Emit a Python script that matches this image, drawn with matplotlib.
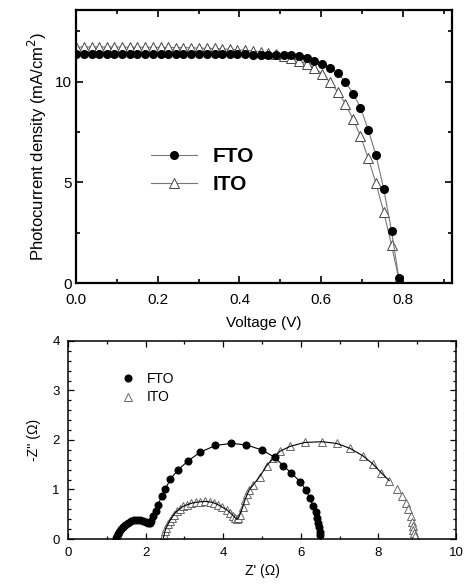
import numpy as np
import matplotlib
matplotlib.use("Agg")
import matplotlib.pyplot as plt
from matplotlib.ticker import MultipleLocator

plt.rcParams['font.family'] = ['Liberation Sans', 'DejaVu Sans']

# J-V curves
voltaje = [0.000, 0.019, 0.038, 0.056, 0.075, 0.094, 0.113, 0.132, 0.150, 0.169,
           0.188, 0.207, 0.226, 0.245, 0.263, 0.282, 0.301, 0.320, 0.339, 0.358,
           0.376, 0.395, 0.414, 0.433, 0.452, 0.470, 0.489, 0.508, 0.527, 0.546,
           0.565, 0.583, 0.602, 0.621, 0.640, 0.659, 0.678, 0.696, 0.715, 0.734,
           0.753, 0.772, 0.790]
j_fto = [11.37, 11.37, 11.37, 11.37, 11.37, 11.37, 11.37, 11.37, 11.37, 11.37,
         11.37, 11.36, 11.36, 11.36, 11.36, 11.36, 11.36, 11.36, 11.36, 11.35,
         11.35, 11.35, 11.35, 11.34, 11.34, 11.33, 11.33, 11.33, 11.32, 11.28,
         11.19, 11.03, 10.89, 10.69, 10.43, 9.98, 9.40, 8.71, 7.60, 6.35,
         4.66, 2.59, 0.23]
j_ito = [11.71, 11.71, 11.71, 11.71, 11.71, 11.71, 11.71, 11.70, 11.70, 11.70,
         11.70, 11.69, 11.69, 11.68, 11.68, 11.67, 11.66, 11.65, 11.64, 11.62,
         11.60, 11.57, 11.55, 11.52, 11.48, 11.43, 11.36, 11.27, 11.16, 11.03,
         10.88, 10.68, 10.38, 9.98, 9.50, 8.90, 8.12, 7.30, 6.20, 4.94,
         3.53, 1.88, 0.20]

# Nyquist
zr_fto = [1.25, 1.27, 1.29, 1.32, 1.36, 1.41, 1.47, 1.54, 1.62, 1.70, 1.78,
          1.86, 1.94, 2.01, 2.07, 2.11, 2.15, 2.19, 2.26, 2.32, 2.41, 2.51,
          2.64, 2.84, 3.10, 3.40, 3.80, 4.21, 4.60, 4.99, 5.33, 5.55, 5.76,
          5.98, 6.13, 6.23, 6.32, 6.39, 6.42, 6.45, 6.47, 6.49, 6.49]
zi_fto = [0.02, 0.06, 0.10, 0.15, 0.20, 0.25, 0.29, 0.33, 0.36, 0.38, 0.385,
          0.38, 0.37, 0.35, 0.33, 0.32, 0.37, 0.46, 0.56, 0.69, 0.86, 1.01,
          1.21, 1.40, 1.58, 1.75, 1.89, 1.93, 1.90, 1.80, 1.65, 1.48, 1.33,
          1.16, 0.99, 0.83, 0.67, 0.54, 0.42, 0.32, 0.24, 0.15, 0.09]
zr_ito = [2.46, 2.48, 2.50, 2.53, 2.58, 2.62, 2.67, 2.73, 2.80, 2.88, 2.97,
          3.07, 3.18, 3.29, 3.40, 3.52, 3.65, 3.76, 3.87, 3.98, 4.09, 4.18,
          4.26, 4.31, 4.35, 4.39, 4.43, 4.50, 4.56, 4.62, 4.67, 4.77, 4.94,
          5.12, 5.29, 5.46, 5.72, 6.10, 6.54, 6.93, 7.27, 7.60, 7.85, 8.07,
          8.28, 8.49, 8.60, 8.71, 8.77, 8.83, 8.87, 8.88, 8.90, 8.92, 8.94]
zi_ito = [0.03, 0.09, 0.16, 0.22, 0.30, 0.36, 0.42, 0.49, 0.56, 0.61, 0.66,
          0.69, 0.72, 0.74, 0.75, 0.76, 0.75, 0.73, 0.69, 0.64, 0.59, 0.53,
          0.47, 0.43, 0.40, 0.42, 0.49, 0.64, 0.79, 0.90, 0.99, 1.09, 1.26,
          1.48, 1.63, 1.77, 1.87, 1.95, 1.965, 1.93, 1.83, 1.68, 1.52, 1.34,
          1.18, 1.01, 0.86, 0.72, 0.60, 0.47, 0.35, 0.27, 0.19, 0.12, 0.07]
ito_fit_hasta = 8.3  # la curva de ajuste del ITO termina aqui

fig = plt.figure(figsize=(4.68, 5.86), dpi=100)

# ---- Panel superior: curvas J-V ----
ax1 = fig.add_axes([0.1624, 0.517, 0.8034, 0.466])
ax1.plot(voltaje, j_fto, '-o', color='#777777', lw=0.8, mfc='black', mec='black',
         ms=5.5, label='FTO', zorder=3)
ax1.plot(voltaje, j_ito, '-^', color='#777777', lw=0.8, mfc='white', mec='#444444',
         mew=0.7, ms=6.5, label='ITO', zorder=2)
ax1.set_xlim(0, 0.92)
ax1.set_ylim(0, 13.55)
ax1.xaxis.set_major_locator(MultipleLocator(0.2))
ax1.xaxis.set_minor_locator(MultipleLocator(0.1))
ax1.yaxis.set_major_locator(MultipleLocator(5))
ax1.yaxis.set_minor_locator(MultipleLocator(2.5))
ax1.xaxis.set_major_formatter(matplotlib.ticker.FormatStrFormatter('%.1f'))
ax1.tick_params(which='both', direction='in', top=True, right=True, width=1.2)
ax1.tick_params(which='major', length=5, labelsize=11)
ax1.tick_params(which='minor', length=3)
ax1.tick_params(axis='x', pad=7)
ax1.tick_params(axis='y', pad=3)
for s in ax1.spines.values():
    s.set_linewidth(1.6)
ax1.set_xlabel('Voltage (V)', fontsize=11, labelpad=7)
ax1.set_ylabel('Photocurrent density (mA/cm$^2$)', fontsize=12, labelpad=4)
leg1 = ax1.legend(loc='center left', bbox_to_anchor=(0.15, 0.412), frameon=False,
                  handlelength=2.2, prop={'weight': 'bold', 'size': 15},
                  labelspacing=0.45, handletextpad=0.75)

# ---- Panel inferior: Nyquist ----
ax2 = fig.add_axes([0.1453, 0.0802, 0.829, 0.338])
ax2.plot(zr_fto, zi_fto, '-', color='black', lw=0.8, zorder=3)
ax2.plot(zr_fto, zi_fto, 'o', color='black', ms=4.8, label='FTO', zorder=4)
zr_ito_fit = [z for z in zr_ito if z <= ito_fit_hasta]
ax2.plot(zr_ito_fit, zi_ito[:len(zr_ito_fit)], '-', color='black', lw=0.8, zorder=3)
ax2.plot(zr_ito, zi_ito, '^', mfc='white', mec='#666666', mew=0.7, ms=6,
         label='ITO', zorder=2)
ax2.set_xlim(0, 10)
ax2.set_ylim(0, 4)
ax2.xaxis.set_major_locator(MultipleLocator(2))
ax2.xaxis.set_minor_locator(MultipleLocator(1))
ax2.yaxis.set_major_locator(MultipleLocator(1))
ax2.yaxis.set_minor_locator(MultipleLocator(0.2))
ax2.tick_params(which='both', direction='in', top=True, right=True, width=0.9)
ax2.tick_params(which='major', length=4, labelsize=9.5)
ax2.tick_params(which='minor', length=2.5)
ax2.tick_params(axis='x', pad=6)
ax2.tick_params(axis='y', pad=6)
for s in ax2.spines.values():
    s.set_linewidth(1.1)
ax2.set_xlabel("Z' (\u03a9)", fontsize=10, labelpad=3)
ax2.set_ylabel("-Z'' (\u03a9)", fontsize=10, labelpad=8)
ax2.legend(loc='upper left', bbox_to_anchor=(0.10, 0.905), frameon=False,
           fontsize=10, handlelength=1.2, labelspacing=0.3, handletextpad=0.8)

plt.savefig('out.png', dpi=100)
